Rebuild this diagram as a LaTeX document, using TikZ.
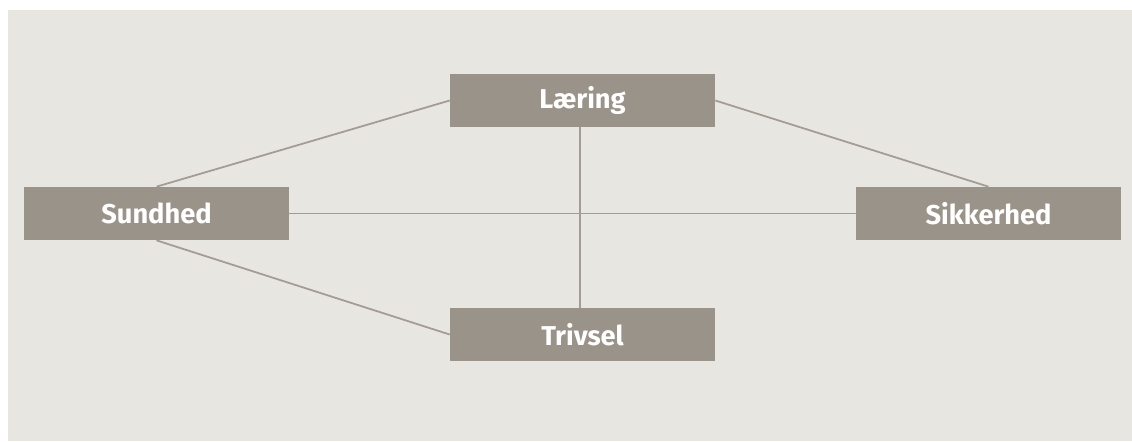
\documentclass[tikz,border=0pt]{standalone}
\usepackage{fontspec}
\setmainfont{Fira Sans}
\usepackage{tikz}

\definecolor{paper}{HTML}{E8E6E1}
\definecolor{stone}{HTML}{9A9389}
\definecolor{wire}{HTML}{A39C93}

\tikzset{
  area/.style={minimum width=5.3cm, minimum height=1.06cm, fill=stone, text=white,
    inner sep=0pt, font=\bfseries\fontsize{15.5}{18}\selectfont},
  link/.style={draw=wire, line width=1pt}
}

\begin{document}
\begin{tikzpicture}[x=0.02cm, y=-0.02cm]
\useasboundingbox (0,0) rectangle (1132,441);
\fill[paper] (8,10) rectangle (1132,441);

\node[area] (laering) at (582.5,100.5) {Læring};
\node[area] (sundhed) at (156.5,213.5) {Sundhed};
\node[area] (sikkerhed) at (988.5,213.5) {Sikkerhed};
\node[area] (trivsel) at (582.5,334.5) {Trivsel};

\foreach \from/\to in {sundhed.north/laering.west, laering.east/sikkerhed.north, sundhed.east/sikkerhed.west, sundhed.south/trivsel.west}
	\draw[link] (\from) -- (\to);
\draw[link] ([xshift=-2.5*0.02cm]laering.south) -- ([xshift=-2.5*0.02cm]trivsel.north);

\end{tikzpicture}
\end{document}
